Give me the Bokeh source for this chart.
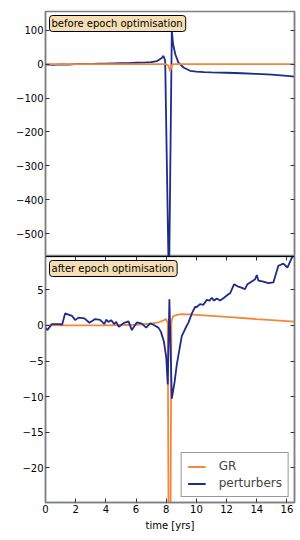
import math
from bokeh.plotting import figure
from bokeh.layouts import column
from bokeh.models import Range1d, FixedTicker, LinearAxis, Label, Legend, LegendItem
from bokeh.embed import file_html
from bokeh.resources import INLINE

# ---------------- data ----------------
# top panel: before epoch optimisation
t_top_pert = [0.0, 0.5, 1.0, 1.5, 2.0, 2.5, 3.0, 3.5, 4.0, 4.5, 5.0, 5.5, 6.0, 6.5, 7.0,
              7.4, 7.7, 7.82, 7.93, 8.18, 8.37, 8.45, 8.6, 8.8, 9.14, 9.58, 10.0, 10.5,
              11.0, 12.0, 13.0, 14.0, 15.0, 16.0, 16.5]
v_top_pert = [-1.0, -2.0, -1.0, -1.5, 0.0, 0.5, 0.0, 1.0, 1.5, 2.0, 2.5, 3.0, 4.0, 4.5, 6.0,
              9.0, 18.0, 24.0, 10.0, -670.0, 100.0, 60.0, 29.0, 5.0, -10.0, -19.7, -22.0, -23.5,
              -24.5, -25.5, -27.0, -29.0, -31.0, -34.5, -37.0]
t_top_gr = [0.0, 8.0, 8.15, 8.26, 8.37, 8.5, 16.5]
v_top_gr = [0.0, 0.0, -5.0, -22.0, -3.0, 0.0, 0.0]

# bottom panel: after epoch optimisation
t_bot_gr = [0.0, 2.0, 4.0, 6.0, 7.0, 7.5, 7.8, 8.0, 8.1, 8.22, 8.34, 8.45, 8.7,
            9.0, 9.5, 10.0, 12.0, 14.0, 16.5]
v_bot_gr = [0.0, 0.0, 0.02, 0.1, 0.25, 0.45, 0.7, 0.9, 0.3, -60.0, 0.5, 1.3, 1.5,
            1.6, 1.55, 1.5, 1.2, 0.9, 0.55]
t_bot_pert = [0.0, 0.13, 0.42, 0.97, 1.1, 1.3, 1.75, 1.97, 2.19, 2.58, 2.91, 3.29, 3.62,
              3.91, 4.02, 4.17, 4.35, 4.55, 4.68, 4.86, 5.17, 5.5, 5.72, 6.05, 6.38, 6.67,
              6.93, 7.15, 7.48, 7.65, 7.85, 8.0, 8.1, 8.21, 8.37, 8.55, 8.7, 9.03, 9.25,
              9.47, 9.7, 9.91, 10.02, 10.24, 10.46, 10.69, 10.87, 11.02, 11.17, 11.35,
              11.57, 11.83, 12.12, 12.23, 12.5, 12.78, 13.07, 13.22, 13.38, 13.67, 13.89,
              14.0, 14.11, 14.44, 14.77, 15.1, 15.43, 15.76, 16.03, 16.32, 16.5]
v_bot_pert = [-0.3, -0.65, 0.2, 0.2, 0.1, 1.7, 1.36, 0.75, 1.1, 1.0, 0.38, 0.9, 0.8,
              0.2, 0.8, 0.5, 0.75, 0.2, 0.5, -0.2, 0.33, 0.57, -0.65, 0.43, 0.25, -0.3,
              0.3, 0.1, -0.3, -0.9, -2.3, -4.5, -8.3, 3.7, -10.3, -8.0, -5.5, -1.5, -0.5,
              0.4, 1.7, 2.6, 2.6, 3.0, 2.9, 3.6, 3.5, 3.9, 3.5, 3.8,
              3.5, 3.9, 4.4, 4.5, 5.8, 5.45, 5.25, 5.1, 5.8, 6.2, 6.5,
              7.1, 6.3, 6.15, 5.95, 6.05, 8.4, 8.7, 8.15, 9.5, 9.9]

x_ticks = [0, 2, 4, 6, 8, 10, 12, 14, 16]
y_ticks_top = [-500, -400, -300, -200, -100, 0, 100]
y_ticks_bot = [-20, -15, -10, -5, 0, 5]

series_labels = ["GR", "perturbers"]
panel_titles = ["before epoch optimisation", "after epoch optimisation"]
x_label = "time [yrs]"
y_label = "redshift signal [km/s]"

# ---------------- style ----------------
FONT = "DejaVu Sans"
ORANGE = "#f5873a"
BLUE = "#1c2b8c"
SPINE = "#808080"
W = 300
LEFT = 45
RIGHT = 6
TOP_H = 256
TOP_B = 11
BOT_H = 284
BOT_B = 38


def fmt(t):
    return ("\u2212" + str(abs(t))) if t < 0 else str(t)


def tick_only_axis(ticks, line_color, line_width):
    return LinearAxis(ticker=FixedTicker(ticks=ticks), major_label_text_font_size="0px",
                      major_label_text_color=None, major_label_standoff=0,
                      major_tick_in=4, major_tick_out=0, minor_tick_line_color=None,
                      axis_line_color=line_color, axis_line_width=line_width,
                      major_tick_line_color="#333333")


def style(p, yticks):
    p.grid.visible = False
    p.background_fill_color = "white"
    p.border_fill_color = "white"
    p.outline_line_color = SPINE
    p.outline_line_width = 1.5
    ya = p.yaxis[0]
    ya.ticker = FixedTicker(ticks=yticks)
    ya.major_label_overrides = {t: fmt(t) for t in yticks}
    ya.major_label_text_font = FONT
    ya.major_label_text_font_size = "10px"
    ya.major_label_text_color = "black"
    ya.major_label_standoff = 2
    ya.major_tick_in = 4
    ya.major_tick_out = 0
    ya.minor_tick_line_color = None
    ya.axis_line_color = SPINE
    ya.axis_line_width = 1.5
    ya.major_tick_line_color = "#333333"
    p.add_layout(tick_only_axis(yticks, SPINE, 1.5), "right")


def title_label(p, text, fh):
    lab = Label(x=4, y=fh - 4, x_units="screen", y_units="screen", text=text,
                text_font=FONT, text_font_size="10px", text_color="black",
                text_align="left", text_baseline="top",
                background_fill_color="#f5deb3", border_line_color="black",
                border_line_width=1, padding=(2, 3, 2, 3), border_radius=3)
    p.add_layout(lab)


x_range = Range1d(0, 16.5)

# ---------------- top panel ----------------
p1 = figure(width=W, height=TOP_H, x_range=x_range, y_range=Range1d(-567, 155),
            output_backend="svg", toolbar_location=None,
            min_border_left=LEFT, min_border_right=RIGHT, min_border_top=TOP_B,
            min_border_bottom=0)
p1.line(t_top_pert, v_top_pert, line_color=BLUE, line_width=1.8)
p1.line(t_top_gr, v_top_gr, line_color=ORANGE, line_width=1.8)
p1.xaxis.visible = False
style(p1, y_ticks_top)
fh1 = TOP_H - TOP_B
title_label(p1, panel_titles[0], fh1)
p1.add_layout(Label(x=-38, y=fh1 / 2, x_units="screen", y_units="screen", text=y_label,
                    angle=math.pi / 2, text_align="center", text_baseline="middle",
                    text_font=FONT, text_font_size="10px", text_color="black"))

# ---------------- bottom panel ----------------
p2 = figure(width=W, height=BOT_H, x_range=x_range, y_range=Range1d(-24.9, 9.7),
            output_backend="svg", toolbar_location=None,
            min_border_left=LEFT, min_border_right=RIGHT, min_border_top=0,
            min_border_bottom=BOT_B)
r_gr = p2.line(t_bot_gr, v_bot_gr, line_color=ORANGE, line_width=1.8)
r_pt = p2.line(t_bot_pert, v_bot_pert, line_color=BLUE, line_width=1.8)
style(p2, y_ticks_bot)
xa = p2.xaxis[0]
xa.ticker = FixedTicker(ticks=x_ticks)
xa.major_label_text_font = FONT
xa.major_label_text_font_size = "10px"
xa.major_label_text_color = "black"
xa.major_label_standoff = 2
xa.major_tick_in = 4
xa.major_tick_out = 0
xa.minor_tick_line_color = None
xa.axis_line_color = SPINE
xa.axis_line_width = 1.5
xa.major_tick_line_color = "#333333"
xa.axis_label = x_label
xa.axis_label_text_font = FONT
xa.axis_label_text_font_size = "10px"
xa.axis_label_text_font_style = "normal"
xa.axis_label_text_color = "black"
xa.axis_label_standoff = 4
p2.add_layout(tick_only_axis(x_ticks, "black", 1), "above")
fh2 = BOT_H - BOT_B
title_label(p2, panel_titles[1], fh2)

legend = Legend(items=[LegendItem(label=series_labels[0], renderers=[r_gr]),
                       LegendItem(label=series_labels[1], renderers=[r_pt])],
                location="bottom_right", label_text_font=FONT, label_text_font_size="12px",
                glyph_width=18, glyph_height=13, label_height=13, label_standoff=13,
                spacing=3, padding=6, margin=5, border_line_color="#333333",
                border_line_width=1, background_fill_color="white")
p2.add_layout(legend)

layout = column(p1, p2, spacing=0)
open("out.html", "w").write(file_html(layout, INLINE))
